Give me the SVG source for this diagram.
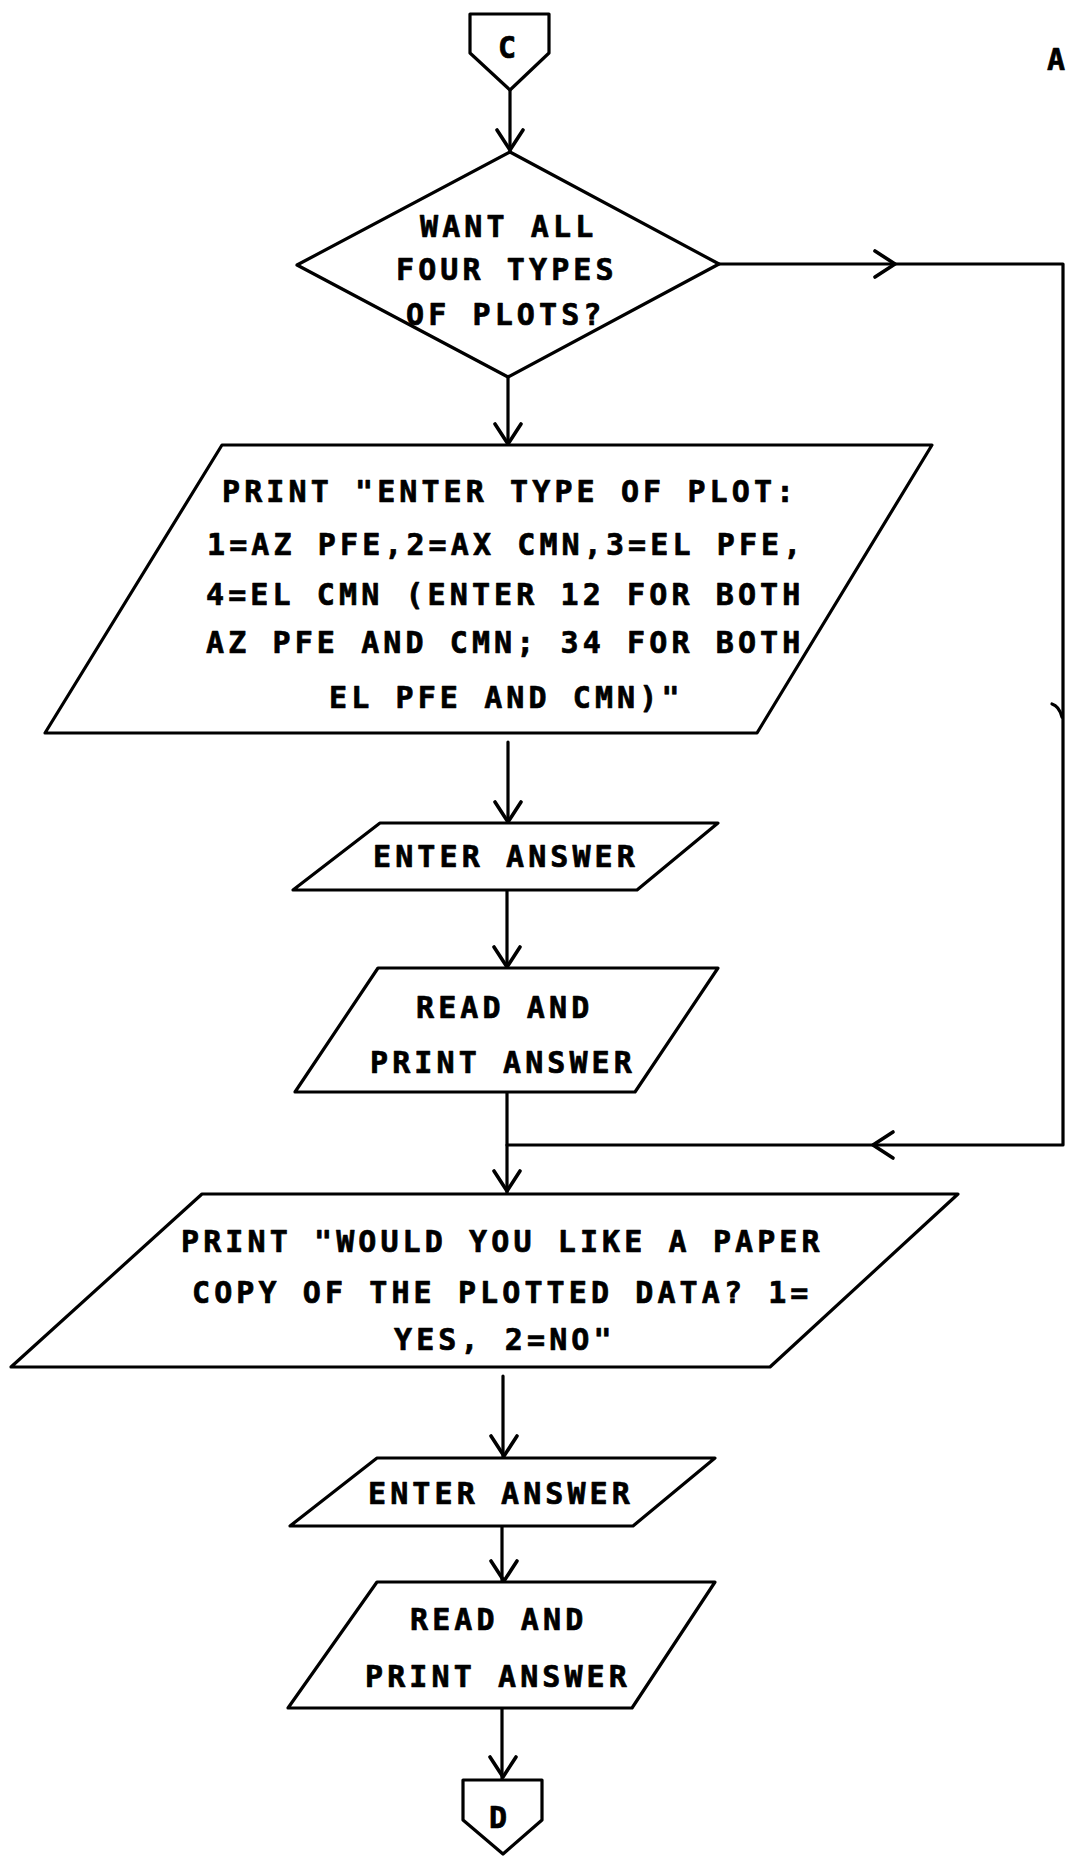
<svg xmlns="http://www.w3.org/2000/svg" xmlns:xlink="http://www.w3.org/1999/xlink" width="1067" height="1856" viewBox="0 0 1067 1856">
  <style>
    .shape { fill: #fff; stroke: #000; stroke-width: 3.2; stroke-linejoin: round; stroke-linecap: round; }
    .wire { fill: none; stroke: #000; stroke-width: 3.2; stroke-linejoin: round; stroke-linecap: round; }
    .t { font-family: "DejaVu Sans Mono", "Liberation Mono", monospace; font-size: 30px; font-weight: bold; letter-spacing: 4.1px; fill: #000; stroke: #000; stroke-width: 0.7px; stroke-linejoin: round; }
  </style>
  <defs>
    <!-- open V arrowhead, pointing down, tip at origin -->
    <path id="ah" d="M-13,-20 L0,0 L13,-20" fill="none" stroke="#000" stroke-width="3.6" stroke-linecap="round" stroke-linejoin="round"/>
  </defs>
  <rect width="1067" height="1856" fill="#fff"/>

  <!-- page label -->
  <text class="t" x="1047" y="70">A</text>

  <!-- connectors -->
  <g id="connectors">
    <path class="wire" d="M510,90 V152"/>
    <use xlink:href="#ah" transform="translate(510,150)"/>
    <path class="wire" d="M508,377 V445"/>
    <use xlink:href="#ah" transform="translate(508,444)"/>
    <path class="wire" d="M508,742 V823"/>
    <use xlink:href="#ah" transform="translate(508,822)"/>
    <path class="wire" d="M507,890 V968"/>
    <use xlink:href="#ah" transform="translate(507,967)"/>
    <path class="wire" d="M507,1087 V1194"/>
    <use xlink:href="#ah" transform="translate(507,1191)"/>
    <!-- "no" branch: bypass loop on the right -->
    <path class="wire" d="M719,264 H1063 V1145 H507"/>
    <use xlink:href="#ah" transform="translate(895,264) rotate(-90)"/>
    <use xlink:href="#ah" transform="translate(873,1145) rotate(90)"/>
    <path class="wire" d="M1052,704 Q1059,706 1062,717"/>
    <path class="wire" d="M503,1376 V1458"/>
    <use xlink:href="#ah" transform="translate(504,1456)"/>
    <path class="wire" d="M502,1526 V1582"/>
    <use xlink:href="#ah" transform="translate(504,1581)"/>
    <path class="wire" d="M502,1700 V1780"/>
    <use xlink:href="#ah" transform="translate(503,1777)"/>
  </g>

  <!-- off-page connector C -->
  <g id="conn-c">
    <path class="shape" d="M470,14 H549 V53 L510,90 L470,53 Z"/>
    <text class="t" x="498" y="58" style="letter-spacing:0">C</text>
  </g>

  <!-- decision -->
  <g id="want-all">
    <path class="shape" d="M510,152 L719,264 L508,377 L297,265 Z"/>
    <text class="t" x="420" y="237">WANT ALL</text>
    <text class="t" x="396" y="280">FOUR TYPES</text>
    <text class="t" x="406" y="325">OF PLOTS?</text>
  </g>

  <g id="print-type">
    <path class="shape" d="M222,445 L932,445 L757,733 L45,733 Z"/>
    <text class="t" x="222" y="502">PRINT "ENTER TYPE OF PLOT:</text>
    <text class="t" x="207" y="555">1=AZ PFE,2=AX CMN,3=EL PFE,</text>
    <text class="t" x="206" y="605">4=EL CMN (ENTER 12 FOR BOTH</text>
    <text class="t" x="206" y="653">AZ PFE AND CMN; 34 FOR BOTH</text>
    <text class="t" x="329" y="708">EL PFE AND CMN)"</text>
  </g>

  <g id="enter-answer-1">
    <path class="shape" d="M380,823 L718,823 L637,890 L293,890 Z"/>
    <text class="t" x="373" y="867">ENTER ANSWER</text>
  </g>

  <g id="read-print-1">
    <path class="shape" d="M378,968 L718,968 L635,1092 L295,1092 Z"/>
    <text class="t" x="416" y="1018">READ AND</text>
    <text class="t" x="370" y="1073">PRINT ANSWER</text>
  </g>

  <g id="print-paper">
    <path class="shape" d="M202,1194 L958,1194 L770,1367 L11,1367 Z"/>
    <text class="t" x="181" y="1252">PRINT "WOULD YOU LIKE A PAPER</text>
    <text class="t" x="192" y="1303">COPY OF THE PLOTTED DATA? 1=</text>
    <text class="t" x="394" y="1350">YES, 2=NO"</text>
  </g>

  <g id="enter-answer-2">
    <path class="shape" d="M377,1458 L715,1458 L633,1526 L290,1526 Z"/>
    <text class="t" x="368" y="1504">ENTER ANSWER</text>
  </g>

  <g id="read-print-2">
    <path class="shape" d="M377,1582 L715,1582 L632,1708 L288,1708 Z"/>
    <text class="t" x="410" y="1630">READ AND</text>
    <text class="t" x="365" y="1687">PRINT ANSWER</text>
  </g>

  <!-- off-page connector D -->
  <g id="conn-d">
    <path class="shape" d="M463,1780 H542 V1820 L503,1854 L463,1820 Z"/>
    <text class="t" x="489" y="1828" style="letter-spacing:0">D</text>
  </g>
</svg>
